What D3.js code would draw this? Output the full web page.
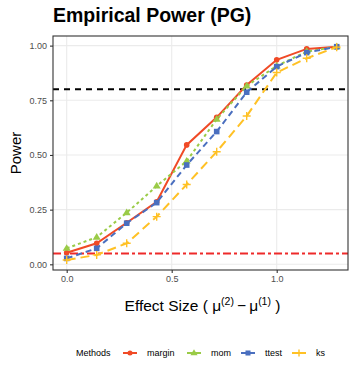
<!DOCTYPE html>
<html>
<head>
<meta charset="utf-8">
<script src="https://cdn.jsdelivr.net/npm/d3@7"></script>
<style>
body { margin: 0; background: #fff; }
text { font-family: "Liberation Sans", Arial, sans-serif; }
</style>
</head>
<body>
<div id="canvas"></div>
<script>
// ----------------------------------------------------------
// DATA -----------------------------------------------------
// ----------------------------------------------------------
var effect_sizes = [0, 1/7, 2/7, 3/7, 4/7, 5/7, 6/7, 1, 8/7, 9/7];
var method_names = ["margin", "mom", "ttest", "ks"];
var power_margin = [0.053, 0.096, 0.19, 0.286, 0.546, 0.672, 0.82, 0.935, 0.985, 0.995];
var power_mom    = [0.073, 0.124, 0.236, 0.358, 0.472, 0.663, 0.816, 0.907, 0.973, 0.995];
var power_ttest  = [0.027, 0.073, 0.188, 0.282, 0.454, 0.607, 0.787, 0.904, 0.968, 0.995];
var power_ks     = [0.02, 0.043, 0.096, 0.218, 0.365, 0.515, 0.678, 0.877, 0.942, 0.993];
var x_ticks = [0, 0.5, 1];
var y_ticks = [0, 0.25, 0.5, 0.75, 1];
var target_power = 0.8;
var alpha_level = 0.05;

// styles
var colors = { margin: "#f04a26", mom: "#9acb47", ttest: "#4a6fbf", ks: "#ffc125" };
var dashes = { margin: null, mom: "3,3", ttest: "6,4", ks: "9,5" };

var series = [
  { key: "margin", values: power_margin },
  { key: "mom", values: power_mom },
  { key: "ttest", values: power_ttest },
  { key: "ks", values: power_ks }
];

// ----------------------------------------------------------
// STRUCTURE ------------------------------------------------
// ----------------------------------------------------------
var W = 357, H = 379;
var panel = { left: 53, right: 348, top: 36, bottom: 270 };

var svg = d3.select("#canvas").append("svg")
  .attr("width", W)
  .attr("height", H)
  .style("background-color", "#fff");

var xScale = d3.scaleLinear()
  .domain([-0.0652, 1.3395])
  .range([panel.left, panel.right]);

var yScale = d3.scaleLinear()
  .domain([-0.026, 1.044])
  .range([panel.bottom, panel.top]);

// ----------------------------------------------------------
// GRID -----------------------------------------------------
// ----------------------------------------------------------
var grid = svg.append("g").attr("class", "grid");
grid.selectAll("line.gy").data(y_ticks).enter().append("line")
  .attr("x1", panel.left).attr("x2", panel.right)
  .attr("y1", function(d) { return yScale(d); })
  .attr("y2", function(d) { return yScale(d); })
  .attr("stroke", "#ebebeb").attr("stroke-width", 1.1);
grid.selectAll("line.gx").data(x_ticks).enter().append("line")
  .attr("y1", panel.top).attr("y2", panel.bottom)
  .attr("x1", function(d) { return xScale(d); })
  .attr("x2", function(d) { return xScale(d); })
  .attr("stroke", "#ebebeb").attr("stroke-width", 1.1);

// reference lines
svg.append("line")
  .attr("x1", panel.left).attr("x2", panel.right)
  .attr("y1", yScale(target_power)).attr("y2", yScale(target_power))
  .attr("stroke", "#000").attr("stroke-width", 2)
  .attr("stroke-dasharray", "6,5");
svg.append("line")
  .attr("x1", panel.left).attr("x2", panel.right)
  .attr("y1", yScale(alpha_level)).attr("y2", yScale(alpha_level))
  .attr("stroke", "#ee2a2a").attr("stroke-width", 2)
  .attr("stroke-dasharray", "8,3,3,3");

// ----------------------------------------------------------
// LINES + POINTS -------------------------------------------
// ----------------------------------------------------------
var line = d3.line()
  .x(function(d, i) { return xScale(effect_sizes[i]); })
  .y(function(d) { return yScale(d); });

function drawMarker(g, key, cx, cy, s) {
  var c = colors[key];
  if (key === "margin") {
    g.append("circle").attr("cx", cx).attr("cy", cy).attr("r", 2.8 * s).attr("fill", c);
  } else if (key === "mom") {
    var r = 4.2 * s;
    g.append("path")
      .attr("d", "M" + cx + "," + (cy - r) + "L" + (cx + r * 0.95) + "," + (cy + r * 0.6) + "L" + (cx - r * 0.95) + "," + (cy + r * 0.6) + "Z")
      .attr("fill", c);
  } else if (key === "ttest") {
    var h = 2.8 * s;
    g.append("rect").attr("x", cx - h).attr("y", cy - h).attr("width", 2 * h).attr("height", 2 * h).attr("fill", c);
  } else {
    var p = 4 * s;
    g.append("path")
      .attr("d", "M" + (cx - p) + "," + cy + "H" + (cx + p) + "M" + cx + "," + (cy - p) + "V" + (cy + p))
      .attr("stroke", c).attr("stroke-width", 1.4).attr("fill", "none");
  }
}

var plot = svg.append("g").attr("class", "plot");
series.forEach(function(s) {
  var g = plot.append("g");
  g.append("path")
    .attr("d", line(s.values))
    .attr("fill", "none")
    .attr("stroke", colors[s.key])
    .attr("stroke-width", 2)
    .attr("stroke-dasharray", dashes[s.key]);
  s.values.forEach(function(v, i) {
    drawMarker(g, s.key, xScale(effect_sizes[i]), yScale(v), 1);
  });
});

// panel border
svg.append("rect")
  .attr("x", panel.left).attr("y", panel.top)
  .attr("width", panel.right - panel.left)
  .attr("height", panel.bottom - panel.top)
  .attr("fill", "none").attr("stroke", "#333").attr("stroke-width", 1.1);

// ----------------------------------------------------------
// AXES -----------------------------------------------------
// ----------------------------------------------------------
var xAxis = svg.append("g")
  .attr("transform", "translate(0," + panel.bottom + ")")
  .call(d3.axisBottom(xScale).tickValues(x_ticks).tickSize(3).tickPadding(3).tickFormat(d3.format(".1f")));
var yAxis = svg.append("g")
  .attr("transform", "translate(" + panel.left + ",0)")
  .call(d3.axisLeft(yScale).tickValues(y_ticks).tickSize(3).tickPadding(3).tickFormat(d3.format(".2f")));
[xAxis, yAxis].forEach(function(a) {
  a.select(".domain").remove();
  a.selectAll(".tick line").attr("stroke", "#333").attr("stroke-width", 1.1);
  a.selectAll(".tick text").attr("fill", "#4d4d4d").style("font-size", "9px")
    .style("font-family", "Liberation Sans, Arial, sans-serif");
});

// ----------------------------------------------------------
// TEXT -----------------------------------------------------
// ----------------------------------------------------------
svg.append("text")
  .attr("x", 53).attr("y", 22)
  .style("font-size", "19.5px").style("font-weight", "bold")
  .attr("fill", "#000")
  .text("Empirical Power (PG)");

svg.append("text")
  .attr("transform", "translate(21," + ((panel.top + panel.bottom) / 2) + ") rotate(-90)")
  .attr("text-anchor", "middle")
  .style("font-size", "15px")
  .text("Power");

var xt = svg.append("text")
  .attr("x", (panel.left + panel.right) / 2 + 2).attr("y", 311)
  .attr("text-anchor", "middle")
  .style("font-size", "15.5px");
xt.append("tspan").text("Effect Size ( \u03bc");
xt.append("tspan").attr("dy", -6).style("font-size", "10.5px").text("(2)");
xt.append("tspan").attr("dy", 6).text("\u2009\u2212\u2009\u03bc");
xt.append("tspan").attr("dy", -6).style("font-size", "10.5px").text("(1)");
xt.append("tspan").attr("dy", 6).text(" )");

// ----------------------------------------------------------
// LEGEND ---------------------------------------------------
// ----------------------------------------------------------
var legend = svg.append("g").attr("class", "legend");
var ly = 353;
legend.append("text").attr("x", 76).attr("y", ly + 3.2)
  .style("font-size", "9px").text("Methods");
var key_x = [123, 187, 241, 292];
method_names.forEach(function(k, i) {
  var g = legend.append("g");
  g.append("line")
    .attr("x1", key_x[i]).attr("x2", key_x[i] + 14)
    .attr("y1", ly).attr("y2", ly)
    .attr("stroke", colors[k]).attr("stroke-width", 2);
  drawMarker(g, k, key_x[i] + 7, ly, 0.9);
  g.append("text").attr("x", key_x[i] + 24).attr("y", ly + 3.2)
    .style("font-size", "9px").text(k);
});
</script>
</body>
</html>
